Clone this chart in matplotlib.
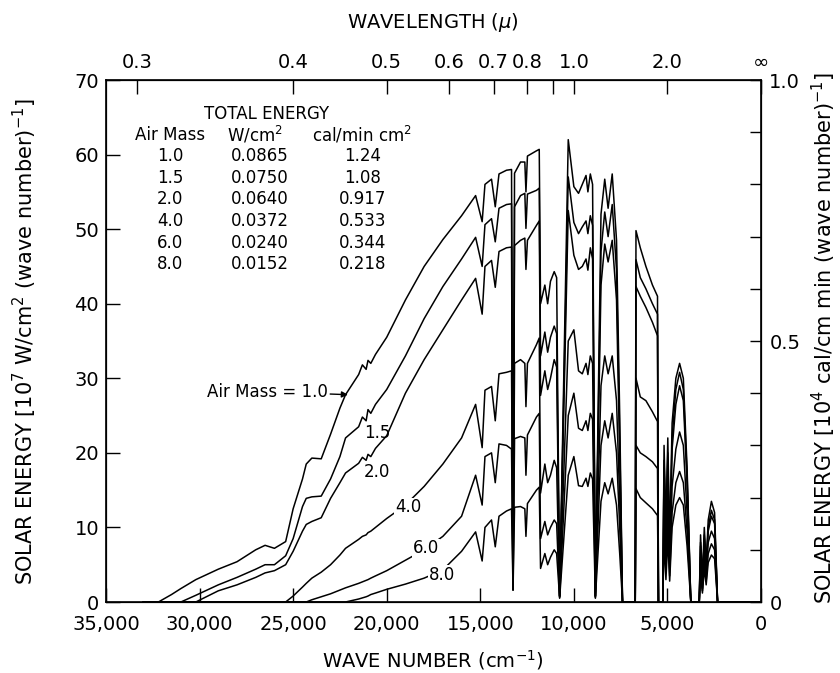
import matplotlib
matplotlib.use('Agg')
import matplotlib.pyplot as plt

# wave number grid (cm^-1), shared by all air mass curves
wavenumber = [33000, 32200, 31500, 31000, 30200, 29000, 28000, 27000, 26500, 26000,
              25400, 25000, 24500, 24300, 24000, 23500, 23000, 22500, 22200, 21500,
              21300, 21100, 21000, 20850, 20600, 20000, 19000, 18000, 17000, 16000,
              15250, 14900, 14750,
              14400, 14200, 14000, 13600, 13330, 13250, 13170, 12850, 12620, 12560,
              12480, 12000, 11850, 11780, 11550, 11400, 11250, 11050, 10920, 10760,
              10300, 10000, 9750, 9550, 9350, 9250, 9120, 9000, 8850, 8550,
              8350, 8170, 7950, 7720, 7550, 7400, 6720, 6680, 6450, 6150,
              5800, 5530, 5480, 5250, 5180, 5080, 4980, 4880, 4750, 4550,
              4350, 4150, 3950, 3750, 3300, 3230, 3130, 3030, 2930, 2820,
              2650, 2480, 2320, 0]

# solar energy, 10^7 W/cm^2 (wave number)^-1
am_1_0 = [0, 0, 1.0, 1.8, 3.0, 4.4, 5.4, 7.0, 7.6, 7.2,
          8.1, 12.5, 16.5, 18.5, 19.3, 19.2, 22.5, 26.0, 27.8, 30.5,
          31.8, 31.2, 32.4, 32.0, 33.2, 35.5, 40.5, 45.0, 48.6, 51.8,
          54.5, 51.0, 56.0,
          56.7, 53.0, 57.4, 57.9, 58.0, 2.0, 57.5, 59.0, 59.0, 55.0,
          59.8, 60.5, 60.7, 40.0, 42.5, 40.0, 43.0, 44.3, 43.5, 0.8,
          62.0, 55.7, 54.8, 56.0, 57.2, 55.0, 57.4, 56.0, 0.8, 52.0,
          56.7, 52.8, 57.4, 48.5, 25.0, 0, 0, 49.8, 47.5, 45.0,
          42.5, 41.0, 0, 0, 21, 10, 22, 8, 24, 30,
          32, 30, 18, 0, 0, 9, 3, 10, 5, 11,
          13.5, 12, 0, 0]

am_1_5 = [0, 0, 0, 0, 0.9, 2.3, 3.3, 4.4, 5.0, 5.0,
          6.2, 8.5, 12.8, 13.9, 14.1, 14.2, 16.5, 19.5, 22.0, 23.5,
          24.8, 24.3, 25.8, 25.3, 26.5, 28.5, 33.0, 38.0, 42.3, 46.0,
          48.9, 45.0, 50.6,
          51.4, 48.3, 52.8, 53.3, 53.4, 1.8, 53.0, 54.5, 54.8, 50.1,
          54.7, 55.2, 55.5, 33.0, 36.2, 33.5, 35.5, 37.0, 36.0, 0.8,
          57.0, 50.9, 49.4, 50.3, 51.1, 49.4, 51.8, 50.5, 0.8, 47.0,
          52.3, 49.0, 53.3, 44.5, 22.0, 0, 0, 45.9, 43.5, 42.0,
          40.0, 38.6, 0, 0, 19, 9, 20, 7, 22, 28.5,
          30.8, 28.5, 17, 0, 0, 8, 2.5, 9, 4.5, 10,
          12.3, 11, 0, 0]

am_2_0 = [0, 0, 0, 0, 0, 1.5, 2.3, 3.3, 3.9, 4.2,
          5.0, 6.8, 9.5, 10.4, 10.8, 11.3, 13.9, 16.0, 17.3, 18.6,
          19.4, 19.0, 19.8, 19.5, 20.6, 22.3, 28.0, 32.5, 36.5, 40.5,
          43.4, 38.6, 45.0,
          45.8, 42.2, 47.0, 47.5, 47.6, 1.7, 47.8, 48.5, 48.8, 44.6,
          48.5, 50.5, 51.1, 27.7, 31.0, 28.5, 30.0, 32.5, 31.5, 0.8,
          52.5, 46.5, 44.6, 45.0, 46.0, 44.5, 47.5, 46.0, 0.8, 42.5,
          48.0, 45.6, 48.5, 40.5, 19.5, 0, 0, 42.3, 41.0, 39.5,
          37.5, 35.7, 0, 0, 18, 8, 19, 6.5, 20.5, 26.5,
          29.0, 27, 16, 0, 0, 7.5, 2.3, 8.5, 4.2, 9.5,
          11.5, 10.5, 0, 0]

am_4_0 = [0, 0, 0, 0, 0, 0, 0, 0, 0, 0,
          0, 0.8, 2.0, 2.5, 3.2, 4.0, 5.0, 6.3, 7.2, 8.4,
          8.8, 9.0, 9.3, 9.5, 10.0, 11.2, 13.0, 15.5, 18.5, 22.0,
          26.5, 20.7, 28.4,
          28.9, 24.3, 30.6, 30.8, 31.0, 1.6, 32.0, 32.5, 32.0, 26.2,
          32.0, 34.5, 35.4, 14.6, 18.5, 16.0, 17.0, 19.0, 18.0, 0.7,
          35.0, 36.5, 31.0, 30.6, 32.0, 30.5, 33.0, 32.0, 0.7, 29.0,
          33.0, 30.6, 33.0, 27.0, 13.5, 0, 0, 30.0, 27.5, 27.0,
          25.5, 24.2, 0, 0, 13, 5.5, 14, 4.5, 15.5, 20.5,
          22.8, 21, 12, 0, 0, 6, 1.8, 7, 3.5, 8,
          9.5, 8.5, 0, 0]

am_6_0 = [0, 0, 0, 0, 0, 0, 0, 0, 0, 0,
          0, 0, 0, 0, 0.3, 0.7, 1.1, 1.6, 1.9, 2.5,
          2.7, 2.9, 3.0, 3.2, 3.5, 4.2, 5.6, 7.0, 8.8, 11.5,
          17.0, 13.0, 19.5,
          20.0, 16.0, 21.2, 21.0, 20.5, 1.6, 21.9, 22.2, 22.0, 17.0,
          22.4, 24.8, 25.3, 8.5, 10.8, 9.0, 10.0, 11.0, 10.5, 0.6,
          25.0, 28.0, 23.3, 23.0, 24.3, 23.0, 25.3, 24.5, 0.6, 21.0,
          24.3, 22.0, 25.3, 20.0, 10.0, 0, 0, 21.0, 20.0, 19.5,
          18.8, 17.9, 0, 0, 10, 4, 10.5, 3.5, 12, 16,
          17.5, 16, 9.5, 0, 0, 4.5, 1.5, 5.5, 2.8, 6.5,
          7.8, 7, 0, 0]

am_8_0 = [0, 0, 0, 0, 0, 0, 0, 0, 0, 0,
          0, 0, 0, 0, 0, 0, 0, 0, 0, 0.4,
          0.55, 0.7, 0.8, 1.0, 1.2, 1.7, 2.4, 3.2, 4.3, 6.8,
          9.4, 5.5, 10.0,
          11.0, 7.4, 11.5, 12.2, 12.5, 1.6, 12.7, 12.8, 12.5, 8.8,
          13.2, 15.0, 15.4, 4.5, 6.5, 5.0, 6.0, 7.0, 6.5, 0.5,
          17.0, 19.5, 15.6, 15.5, 16.6, 15.5, 17.3, 16.5, 0.5, 13.5,
          16.0, 14.5, 16.6, 13.0, 6.5, 0, 0, 15.2, 14.0, 13.3,
          12.5, 11.6, 0, 0, 8, 3, 8.5, 2.8, 10, 13,
          14, 13, 7.5, 0, 0, 3.8, 1.2, 4.5, 2.3, 5.3,
          6.3, 5.8, 0, 0]

# total energy table
air_mass = ['1.0', '1.5', '2.0', '4.0', '6.0', '8.0']
watts_cm2 = ['0.0865', '0.0750', '0.0640', '0.0372', '0.0240', '0.0152']
cal_min_cm2 = ['1.24', '1.08', '0.917', '0.533', '0.344', '0.218']

bottom_ticks = [35000, 30000, 25000, 20000, 15000, 10000, 5000, 0]
bottom_labels = ['35,000', '30,000', '25,000', '20,000', '15,000', '10,000', '5,000', '0']
wavelength_um = [0.3, 0.4, 0.5, 0.6, 0.7, 0.8, 0.9, 1.0, 2.0]
wavelength_labels = ['0.3', '0.4', '0.5', '0.6', '0.7', '0.8', '', '1.0', '2.0']
right_ticks = [0, 0.1, 0.2, 0.3, 0.4, 0.5, 0.6, 0.7, 0.8, 0.9, 1.0]
right_labels = ['0', '', '', '', '', '0.5', '', '', '', '', '1.0']

plt.rcParams['font.family'] = ['DejaVu Sans']
plt.rcParams['mathtext.fontset'] = 'dejavusans'

W, H = 840, 673
fig = plt.figure(figsize=(W / 100, H / 100), dpi=100)
ax = fig.add_axes([106 / W, 1 - 602 / H, (761 - 106) / W, (602 - 80) / H])

for series in [am_1_0, am_1_5, am_2_0, am_4_0, am_6_0, am_8_0]:
    ax.plot(wavenumber, series, color='black', lw=1.1, solid_joinstyle='round')

ax.set_xlim(35000, 0)
ax.set_ylim(0, 70)
ax.set_xticks(bottom_ticks)
ax.set_xticklabels(bottom_labels)
ax.set_yticks(range(0, 71, 10))
ax.tick_params(direction='in', length=10, width=1, labelsize=14)
ax.tick_params(axis='x', pad=9)
ax.tick_params(axis='y', pad=5)
for s in ax.spines.values():
    s.set_linewidth(1.2)

# wavelength scale on top
ax_top = ax.twiny()
ax_top.set_xlim(35000, 0)
ax_top.set_xticks([1e4 / w for w in wavelength_um] + [0])
ax_top.set_xticklabels(wavelength_labels + ['\u221e'])
ax_top.tick_params(direction='in', length=10, width=1, labelsize=14, pad=6)

# cal scale on the right
ax_r = ax.twinx()
ax_r.set_ylim(0, 1.0)
ax_r.set_yticks(right_ticks)
ax_r.set_yticklabels(right_labels)
ax_r.tick_params(direction='in', length=8, width=1, labelsize=14, pad=6)

fig.text(433 / W, 1 - 660 / H, 'WAVE NUMBER (cm$^{-1}$)', ha='center', va='center', fontsize=14)
fig.text(433 / W, 1 - 22 / H, 'WAVELENGTH ($\\mu$)', ha='center', va='center', fontsize=14)
fig.text(25 / W, 1 - 342 / H, 'SOLAR ENERGY [10$^7$ W/cm$^2$ (wave number)$^{-1}$]',
         rotation=90, ha='center', va='center', fontsize=15)
fig.text(824 / W, 1 - 338 / H, 'SOLAR ENERGY [10$^4$ cal/cm min (wave number)$^{-1}$]',
         rotation=90, ha='center', va='center', fontsize=15)

# table of total energy
fs = 12
ax.text(26400, 65.5, 'TOTAL ENERGY', ha='center', va='center', fontsize=fs)
ax.text(31580, 62.6, 'Air Mass', ha='center', va='center', fontsize=fs)
ax.text(27040, 62.6, 'W/cm$^2$', ha='center', va='center', fontsize=fs)
ax.text(21320, 62.6, 'cal/min cm$^2$', ha='center', va='center', fontsize=fs)
for i in range(len(air_mass)):
    yy = 59.8 - 2.9 * i
    ax.text(31580, yy, air_mass[i], ha='center', va='center', fontsize=fs)
    ax.text(26770, yy, watts_cm2[i], ha='center', va='center', fontsize=fs)
    ax.text(21270, yy, cal_min_cm2[i], ha='center', va='center', fontsize=fs)

# curve labels
ax.annotate('Air Mass = 1.0', xy=(22070, 27.8), xytext=(26400, 28.2), ha='center', va='center',
            fontsize=fs, arrowprops=dict(arrowstyle='-|>', color='black', lw=1,
                                         mutation_scale=9, shrinkA=0, shrinkB=0))
ax.text(20500, 22.7, '1.5', ha='center', va='center', fontsize=fs)
ax.text(20500, 17.4, '2.0', ha='center', va='center', fontsize=fs)
box = dict(facecolor='white', edgecolor='none', pad=0.5)
ax.text(18860, 12.7, '4.0', ha='center', va='center', fontsize=fs, bbox=box)
ax.text(17900, 7.2, '6.0', ha='center', va='center', fontsize=fs, bbox=box)
ax.text(17040, 3.6, '8.0', ha='center', va='center', fontsize=fs, bbox=box)

plt.savefig('out.png', dpi=100)
